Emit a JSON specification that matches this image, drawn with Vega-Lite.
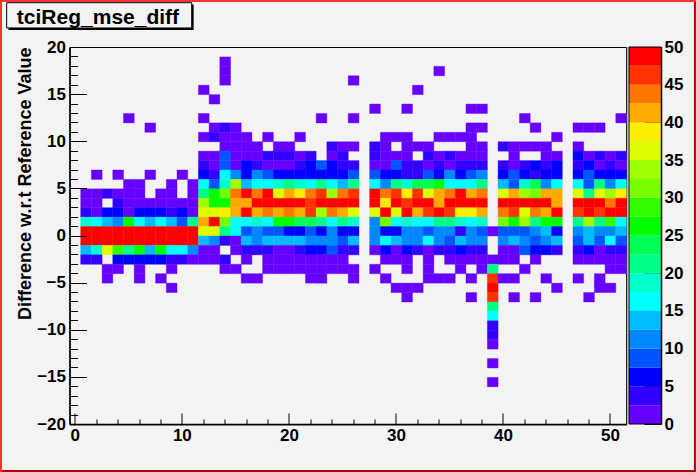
{"$schema":"https://vega.github.io/schema/vega-lite/v6.json","autosize":{"type":"none"},"padding":{"left":69.5,"top":47,"right":70,"bottom":48},"width":556.5,"height":377,"background":"#f3f3f3","view":{"fill":"#f3f3f3","stroke":"#000000","strokeWidth":1},"config":{"font":"Liberation Sans","axis":{"labelFont":"Liberation Sans","titleFont":"Liberation Sans","labelFontWeight":"bold","labelColor":"#000000","labelFontSize":17,"domainColor":"#000000","tickColor":"#000000","grid":false}},"resolve":{"scale":{"y":"independent"},"axis":{"y":"independent"}},"datasets":{"cells":[
{"x":14,"y":18,"v":1},{"x":14,"y":17,"v":1},{"x":34,"y":17,"v":1},{"x":14,"y":16,"v":1},{"x":26,"y":16,"v":1},{"x":12,"y":15,"v":1},{"x":32,"y":15,"v":1},{"x":13,"y":14,"v":1},
{"x":28,"y":13,"v":1},{"x":31,"y":13,"v":1},{"x":37,"y":13,"v":1},{"x":38,"y":13,"v":1},
{"x":5,"y":12,"v":1},{"x":12,"y":12,"v":1},{"x":23,"y":12,"v":1},{"x":26,"y":12,"v":1},{"x":42,"y":12,"v":1},{"x":51,"y":12,"v":1},
{"x":7,"y":11,"v":1},{"x":13,"y":11,"v":1},{"x":14,"y":11,"v":4},{"x":15,"y":11,"v":1},{"x":37,"y":11,"v":1},{"x":38,"y":11,"v":1},{"x":43,"y":11,"v":1},{"x":47,"y":11,"v":1},{"x":48,"y":11,"v":1},{"x":49,"y":11,"v":1},
{"x":12,"y":10,"v":1},{"x":13,"y":10,"v":4},{"x":14,"y":10,"v":1},{"x":15,"y":10,"v":1},{"x":16,"y":10,"v":1},{"x":18,"y":10,"v":1},{"x":21,"y":10,"v":1},{"x":29,"y":10,"v":1},{"x":30,"y":10,"v":1},{"x":31,"y":10,"v":1},{"x":34,"y":10,"v":1},{"x":35,"y":10,"v":1},{"x":36,"y":10,"v":1},{"x":37,"y":10,"v":1},{"x":45,"y":10,"v":1},
{"x":14,"y":9,"v":1},{"x":15,"y":9,"v":1},{"x":16,"y":9,"v":1},{"x":17,"y":9,"v":1},{"x":19,"y":9,"v":1},{"x":20,"y":9,"v":1},{"x":24,"y":9,"v":4},{"x":25,"y":9,"v":1},{"x":26,"y":9,"v":1},{"x":28,"y":9,"v":4},{"x":29,"y":9,"v":1},{"x":31,"y":9,"v":1},{"x":32,"y":9,"v":1},{"x":33,"y":9,"v":1},{"x":37,"y":9,"v":1},{"x":38,"y":9,"v":1},{"x":40,"y":9,"v":4},{"x":41,"y":9,"v":1},{"x":42,"y":9,"v":1},{"x":43,"y":9,"v":1},{"x":44,"y":9,"v":1},{"x":47,"y":9,"v":1},
{"x":12,"y":8,"v":1},{"x":13,"y":8,"v":1},{"x":14,"y":8,"v":9},{"x":15,"y":8,"v":1},{"x":16,"y":8,"v":1},{"x":17,"y":8,"v":1},{"x":18,"y":8,"v":4},{"x":19,"y":8,"v":4},{"x":20,"y":8,"v":4},{"x":21,"y":8,"v":1},{"x":22,"y":8,"v":4},{"x":24,"y":8,"v":1},{"x":25,"y":8,"v":4},{"x":28,"y":8,"v":4},{"x":29,"y":8,"v":1},{"x":30,"y":8,"v":1},{"x":31,"y":8,"v":1},{"x":33,"y":8,"v":4},{"x":34,"y":8,"v":1},{"x":35,"y":8,"v":4},{"x":36,"y":8,"v":1},{"x":37,"y":8,"v":1},{"x":38,"y":8,"v":1},{"x":41,"y":8,"v":1},{"x":44,"y":8,"v":1},{"x":45,"y":8,"v":1},{"x":47,"y":8,"v":6},{"x":48,"y":8,"v":1},{"x":49,"y":8,"v":4},{"x":50,"y":8,"v":1},{"x":51,"y":8,"v":4},
{"x":12,"y":7,"v":4},{"x":13,"y":7,"v":1},{"x":14,"y":7,"v":9},{"x":15,"y":7,"v":1},{"x":16,"y":7,"v":6},{"x":17,"y":7,"v":4},{"x":18,"y":7,"v":1},{"x":19,"y":7,"v":1},{"x":20,"y":7,"v":1},{"x":21,"y":7,"v":4},{"x":22,"y":7,"v":6},{"x":23,"y":7,"v":9},{"x":24,"y":7,"v":6},{"x":25,"y":7,"v":4},{"x":26,"y":7,"v":4},{"x":28,"y":7,"v":1},{"x":29,"y":7,"v":1},{"x":30,"y":7,"v":9},{"x":31,"y":7,"v":4},{"x":32,"y":7,"v":4},{"x":33,"y":7,"v":1},{"x":34,"y":7,"v":4},{"x":35,"y":7,"v":1},{"x":36,"y":7,"v":4},{"x":37,"y":7,"v":4},{"x":38,"y":7,"v":4},{"x":40,"y":7,"v":4},{"x":41,"y":7,"v":1},{"x":42,"y":7,"v":4},{"x":43,"y":7,"v":6},{"x":44,"y":7,"v":4},{"x":45,"y":7,"v":6},{"x":47,"y":7,"v":4},{"x":48,"y":7,"v":6},{"x":49,"y":7,"v":1},{"x":50,"y":7,"v":4},{"x":51,"y":7,"v":1},
{"x":2,"y":6,"v":1},{"x":4,"y":6,"v":1},{"x":7,"y":6,"v":1},{"x":10,"y":6,"v":1},{"x":12,"y":6,"v":6},{"x":13,"y":6,"v":4},{"x":14,"y":6,"v":16},{"x":15,"y":6,"v":11},{"x":16,"y":6,"v":6},{"x":17,"y":6,"v":11},{"x":18,"y":6,"v":9},{"x":19,"y":6,"v":6},{"x":20,"y":6,"v":6},{"x":21,"y":6,"v":6},{"x":22,"y":6,"v":6},{"x":23,"y":6,"v":6},{"x":24,"y":6,"v":6},{"x":25,"y":6,"v":6},{"x":26,"y":6,"v":9},{"x":28,"y":6,"v":9},{"x":29,"y":6,"v":6},{"x":30,"y":6,"v":6},{"x":31,"y":6,"v":4},{"x":32,"y":6,"v":4},{"x":33,"y":6,"v":9},{"x":34,"y":6,"v":6},{"x":35,"y":6,"v":11},{"x":36,"y":6,"v":6},{"x":37,"y":6,"v":9},{"x":38,"y":6,"v":11},{"x":40,"y":6,"v":6},{"x":41,"y":6,"v":9},{"x":42,"y":6,"v":6},{"x":43,"y":6,"v":4},{"x":44,"y":6,"v":6},{"x":45,"y":6,"v":6},{"x":47,"y":6,"v":6},{"x":48,"y":6,"v":9},{"x":49,"y":6,"v":6},{"x":50,"y":6,"v":6},{"x":51,"y":6,"v":6},
{"x":5,"y":5,"v":1},{"x":6,"y":5,"v":1},{"x":9,"y":5,"v":1},{"x":11,"y":5,"v":1},{"x":12,"y":5,"v":16},{"x":13,"y":5,"v":9},{"x":14,"y":5,"v":19},{"x":15,"y":5,"v":34},{"x":16,"y":5,"v":14},{"x":17,"y":5,"v":16},{"x":18,"y":5,"v":16},{"x":19,"y":5,"v":19},{"x":20,"y":5,"v":21},{"x":21,"y":5,"v":19},{"x":22,"y":5,"v":16},{"x":23,"y":5,"v":21},{"x":24,"y":5,"v":16},{"x":25,"y":5,"v":14},{"x":26,"y":5,"v":21},{"x":28,"y":5,"v":16},{"x":29,"y":5,"v":11},{"x":30,"y":5,"v":21},{"x":31,"y":5,"v":19},{"x":32,"y":5,"v":24},{"x":33,"y":5,"v":24},{"x":34,"y":5,"v":26},{"x":35,"y":5,"v":16},{"x":36,"y":5,"v":16},{"x":37,"y":5,"v":16},{"x":38,"y":5,"v":21},{"x":40,"y":5,"v":14},{"x":41,"y":5,"v":9},{"x":42,"y":5,"v":19},{"x":43,"y":5,"v":24},{"x":44,"y":5,"v":11},{"x":45,"y":5,"v":16},{"x":47,"y":5,"v":16},{"x":48,"y":5,"v":9},{"x":49,"y":5,"v":21},{"x":50,"y":5,"v":11},{"x":51,"y":5,"v":16},
{"x":1,"y":4,"v":1},{"x":2,"y":4,"v":1},{"x":3,"y":4,"v":4},{"x":4,"y":4,"v":1},{"x":5,"y":4,"v":1},{"x":6,"y":4,"v":1},{"x":8,"y":4,"v":1},{"x":9,"y":4,"v":1},{"x":11,"y":4,"v":1},{"x":12,"y":4,"v":21},{"x":13,"y":4,"v":26},{"x":14,"y":4,"v":31},{"x":15,"y":4,"v":44},{"x":16,"y":4,"v":49},{"x":17,"y":4,"v":44},{"x":18,"y":4,"v":49},{"x":19,"y":4,"v":36},{"x":20,"y":4,"v":41},{"x":21,"y":4,"v":39},{"x":22,"y":4,"v":44},{"x":23,"y":4,"v":46},{"x":24,"y":4,"v":34},{"x":25,"y":4,"v":44},{"x":26,"y":4,"v":46},{"x":28,"y":4,"v":49},{"x":29,"y":4,"v":44},{"x":30,"y":4,"v":46},{"x":31,"y":4,"v":39},{"x":32,"y":4,"v":46},{"x":33,"y":4,"v":36},{"x":34,"y":4,"v":41},{"x":35,"y":4,"v":44},{"x":36,"y":4,"v":49},{"x":37,"y":4,"v":41},{"x":38,"y":4,"v":44},{"x":40,"y":4,"v":36},{"x":41,"y":4,"v":41},{"x":42,"y":4,"v":34},{"x":43,"y":4,"v":31},{"x":44,"y":4,"v":41},{"x":45,"y":4,"v":41},{"x":47,"y":4,"v":36},{"x":48,"y":4,"v":21},{"x":49,"y":4,"v":36},{"x":50,"y":4,"v":34},{"x":51,"y":4,"v":39},
{"x":1,"y":3,"v":1},{"x":2,"y":3,"v":1},{"x":4,"y":3,"v":4},{"x":5,"y":3,"v":1},{"x":6,"y":3,"v":1},{"x":7,"y":3,"v":1},{"x":8,"y":3,"v":1},{"x":9,"y":3,"v":1},{"x":10,"y":3,"v":1},{"x":11,"y":3,"v":1},{"x":12,"y":3,"v":34},{"x":13,"y":3,"v":26},{"x":14,"y":3,"v":26},{"x":15,"y":3,"v":41},{"x":16,"y":3,"v":41},{"x":17,"y":3,"v":49},{"x":18,"y":3,"v":49},{"x":19,"y":3,"v":49},{"x":20,"y":3,"v":49},{"x":21,"y":3,"v":49},{"x":22,"y":3,"v":46},{"x":23,"y":3,"v":49},{"x":24,"y":3,"v":49},{"x":25,"y":3,"v":49},{"x":26,"y":3,"v":49},{"x":28,"y":3,"v":49},{"x":29,"y":3,"v":39},{"x":30,"y":3,"v":49},{"x":31,"y":3,"v":46},{"x":32,"y":3,"v":49},{"x":33,"y":3,"v":49},{"x":34,"y":3,"v":41},{"x":35,"y":3,"v":49},{"x":36,"y":3,"v":49},{"x":37,"y":3,"v":49},{"x":38,"y":3,"v":49},{"x":40,"y":3,"v":49},{"x":41,"y":3,"v":49},{"x":42,"y":3,"v":49},{"x":43,"y":3,"v":49},{"x":44,"y":3,"v":49},{"x":45,"y":3,"v":41},{"x":47,"y":3,"v":49},{"x":48,"y":3,"v":49},{"x":49,"y":3,"v":49},{"x":50,"y":3,"v":44},{"x":51,"y":3,"v":49},
{"x":1,"y":2,"v":4},{"x":2,"y":2,"v":1},{"x":3,"y":2,"v":6},{"x":4,"y":2,"v":6},{"x":5,"y":2,"v":1},{"x":6,"y":2,"v":6},{"x":7,"y":2,"v":6},{"x":8,"y":2,"v":6},{"x":9,"y":2,"v":4},{"x":10,"y":2,"v":6},{"x":11,"y":2,"v":1},{"x":12,"y":2,"v":36},{"x":13,"y":2,"v":36},{"x":14,"y":2,"v":39},{"x":15,"y":2,"v":41},{"x":16,"y":2,"v":49},{"x":17,"y":2,"v":41},{"x":18,"y":2,"v":44},{"x":19,"y":2,"v":41},{"x":20,"y":2,"v":44},{"x":21,"y":2,"v":41},{"x":22,"y":2,"v":46},{"x":23,"y":2,"v":34},{"x":24,"y":2,"v":44},{"x":25,"y":2,"v":41},{"x":26,"y":2,"v":36},{"x":28,"y":2,"v":36},{"x":29,"y":2,"v":49},{"x":30,"y":2,"v":36},{"x":31,"y":2,"v":49},{"x":32,"y":2,"v":41},{"x":33,"y":2,"v":46},{"x":34,"y":2,"v":49},{"x":35,"y":2,"v":46},{"x":36,"y":2,"v":39},{"x":37,"y":2,"v":39},{"x":38,"y":2,"v":41},{"x":40,"y":2,"v":44},{"x":41,"y":2,"v":46},{"x":42,"y":2,"v":36},{"x":43,"y":2,"v":44},{"x":44,"y":2,"v":41},{"x":45,"y":2,"v":49},{"x":47,"y":2,"v":46},{"x":48,"y":2,"v":49},{"x":49,"y":2,"v":46},{"x":50,"y":2,"v":49},{"x":51,"y":2,"v":49},
{"x":1,"y":1,"v":19},{"x":2,"y":1,"v":16},{"x":3,"y":1,"v":14},{"x":4,"y":1,"v":11},{"x":5,"y":1,"v":26},{"x":6,"y":1,"v":16},{"x":7,"y":1,"v":14},{"x":8,"y":1,"v":16},{"x":9,"y":1,"v":14},{"x":10,"y":1,"v":9},{"x":11,"y":1,"v":21},{"x":12,"y":1,"v":41},{"x":13,"y":1,"v":49},{"x":14,"y":1,"v":31},{"x":15,"y":1,"v":16},{"x":16,"y":1,"v":16},{"x":17,"y":1,"v":19},{"x":18,"y":1,"v":16},{"x":19,"y":1,"v":26},{"x":20,"y":1,"v":26},{"x":21,"y":1,"v":24},{"x":22,"y":1,"v":24},{"x":23,"y":1,"v":21},{"x":24,"y":1,"v":16},{"x":25,"y":1,"v":21},{"x":26,"y":1,"v":19},{"x":28,"y":1,"v":11},{"x":29,"y":1,"v":31},{"x":30,"y":1,"v":16},{"x":31,"y":1,"v":19},{"x":32,"y":1,"v":16},{"x":33,"y":1,"v":16},{"x":34,"y":1,"v":21},{"x":35,"y":1,"v":21},{"x":36,"y":1,"v":19},{"x":37,"y":1,"v":16},{"x":38,"y":1,"v":19},{"x":40,"y":1,"v":31},{"x":41,"y":1,"v":26},{"x":42,"y":1,"v":34},{"x":43,"y":1,"v":21},{"x":44,"y":1,"v":26},{"x":45,"y":1,"v":26},{"x":47,"y":1,"v":21},{"x":48,"y":1,"v":34},{"x":49,"y":1,"v":21},{"x":50,"y":1,"v":29},{"x":51,"y":1,"v":16},
{"x":1,"y":0,"v":49},{"x":2,"y":0,"v":49},{"x":3,"y":0,"v":49},{"x":4,"y":0,"v":49},{"x":5,"y":0,"v":49},{"x":6,"y":0,"v":49},{"x":7,"y":0,"v":49},{"x":8,"y":0,"v":49},{"x":9,"y":0,"v":49},{"x":10,"y":0,"v":49},{"x":11,"y":0,"v":49},{"x":12,"y":0,"v":36},{"x":13,"y":0,"v":36},{"x":14,"y":0,"v":21},{"x":15,"y":0,"v":16},{"x":16,"y":0,"v":9},{"x":17,"y":0,"v":11},{"x":18,"y":0,"v":9},{"x":19,"y":0,"v":9},{"x":20,"y":0,"v":6},{"x":21,"y":0,"v":6},{"x":22,"y":0,"v":9},{"x":23,"y":0,"v":6},{"x":24,"y":0,"v":11},{"x":25,"y":0,"v":6},{"x":26,"y":0,"v":6},{"x":28,"y":0,"v":11},{"x":29,"y":0,"v":6},{"x":30,"y":0,"v":6},{"x":31,"y":0,"v":11},{"x":32,"y":0,"v":11},{"x":33,"y":0,"v":9},{"x":34,"y":0,"v":11},{"x":35,"y":0,"v":11},{"x":36,"y":0,"v":4},{"x":37,"y":0,"v":11},{"x":38,"y":0,"v":9},{"x":39,"y":0,"v":1},{"x":40,"y":0,"v":9},{"x":41,"y":0,"v":9},{"x":42,"y":0,"v":9},{"x":43,"y":0,"v":11},{"x":44,"y":0,"v":14},{"x":45,"y":0,"v":6},{"x":47,"y":0,"v":11},{"x":48,"y":0,"v":14},{"x":49,"y":0,"v":11},{"x":50,"y":0,"v":11},{"x":51,"y":0,"v":14},
{"x":1,"y":-1,"v":49},{"x":2,"y":-1,"v":49},{"x":3,"y":-1,"v":49},{"x":4,"y":-1,"v":49},{"x":5,"y":-1,"v":49},{"x":6,"y":-1,"v":49},{"x":7,"y":-1,"v":49},{"x":8,"y":-1,"v":49},{"x":9,"y":-1,"v":49},{"x":10,"y":-1,"v":49},{"x":11,"y":-1,"v":49},{"x":12,"y":-1,"v":14},{"x":13,"y":-1,"v":11},{"x":14,"y":-1,"v":4},{"x":15,"y":-1,"v":1},{"x":16,"y":-1,"v":14},{"x":17,"y":-1,"v":11},{"x":18,"y":-1,"v":14},{"x":19,"y":-1,"v":14},{"x":20,"y":-1,"v":14},{"x":21,"y":-1,"v":14},{"x":22,"y":-1,"v":11},{"x":23,"y":-1,"v":11},{"x":24,"y":-1,"v":11},{"x":25,"y":-1,"v":9},{"x":26,"y":-1,"v":14},{"x":28,"y":-1,"v":11},{"x":29,"y":-1,"v":16},{"x":30,"y":-1,"v":14},{"x":31,"y":-1,"v":11},{"x":32,"y":-1,"v":11},{"x":33,"y":-1,"v":16},{"x":34,"y":-1,"v":11},{"x":35,"y":-1,"v":9},{"x":36,"y":-1,"v":14},{"x":37,"y":-1,"v":11},{"x":38,"y":-1,"v":11},{"x":40,"y":-1,"v":11},{"x":41,"y":-1,"v":14},{"x":42,"y":-1,"v":11},{"x":43,"y":-1,"v":9},{"x":44,"y":-1,"v":11},{"x":45,"y":-1,"v":14},{"x":47,"y":-1,"v":9},{"x":48,"y":-1,"v":14},{"x":49,"y":-1,"v":9},{"x":50,"y":-1,"v":16},{"x":51,"y":-1,"v":9},
{"x":1,"y":-2,"v":14},{"x":2,"y":-2,"v":19},{"x":3,"y":-2,"v":36},{"x":4,"y":-2,"v":29},{"x":5,"y":-2,"v":21},{"x":6,"y":-2,"v":26},{"x":7,"y":-2,"v":14},{"x":8,"y":-2,"v":26},{"x":9,"y":-2,"v":16},{"x":10,"y":-2,"v":16},{"x":11,"y":-2,"v":11},{"x":12,"y":-2,"v":1},{"x":13,"y":-2,"v":1},{"x":15,"y":-2,"v":1},{"x":16,"y":-2,"v":4},{"x":17,"y":-2,"v":4},{"x":18,"y":-2,"v":4},{"x":19,"y":-2,"v":1},{"x":20,"y":-2,"v":1},{"x":21,"y":-2,"v":4},{"x":22,"y":-2,"v":6},{"x":23,"y":-2,"v":6},{"x":24,"y":-2,"v":9},{"x":25,"y":-2,"v":4},{"x":26,"y":-2,"v":4},{"x":28,"y":-2,"v":1},{"x":29,"y":-2,"v":6},{"x":30,"y":-2,"v":1},{"x":31,"y":-2,"v":6},{"x":32,"y":-2,"v":4},{"x":33,"y":-2,"v":1},{"x":34,"y":-2,"v":4},{"x":35,"y":-2,"v":4},{"x":36,"y":-2,"v":6},{"x":37,"y":-2,"v":4},{"x":38,"y":-2,"v":4},{"x":40,"y":-2,"v":1},{"x":41,"y":-2,"v":1},{"x":42,"y":-2,"v":9},{"x":43,"y":-2,"v":6},{"x":44,"y":-2,"v":6},{"x":45,"y":-2,"v":4},{"x":47,"y":-2,"v":4},{"x":48,"y":-2,"v":6},{"x":49,"y":-2,"v":1},{"x":50,"y":-2,"v":4},{"x":51,"y":-2,"v":4},
{"x":1,"y":-3,"v":4},{"x":2,"y":-3,"v":4},{"x":4,"y":-3,"v":6},{"x":5,"y":-3,"v":6},{"x":6,"y":-3,"v":6},{"x":7,"y":-3,"v":6},{"x":8,"y":-3,"v":6},{"x":9,"y":-3,"v":4},{"x":10,"y":-3,"v":4},{"x":11,"y":-3,"v":1},{"x":12,"y":-3,"v":1},{"x":13,"y":-3,"v":1},{"x":14,"y":-3,"v":4},{"x":16,"y":-3,"v":1},{"x":18,"y":-3,"v":1},{"x":19,"y":-3,"v":1},{"x":20,"y":-3,"v":1},{"x":21,"y":-3,"v":1},{"x":22,"y":-3,"v":1},{"x":23,"y":-3,"v":1},{"x":24,"y":-3,"v":1},{"x":25,"y":-3,"v":1},{"x":29,"y":-3,"v":1},{"x":30,"y":-3,"v":1},{"x":31,"y":-3,"v":1},{"x":33,"y":-3,"v":1},{"x":35,"y":-3,"v":1},{"x":36,"y":-3,"v":1},{"x":37,"y":-3,"v":1},{"x":38,"y":-3,"v":1},{"x":39,"y":-3,"v":1},{"x":40,"y":-3,"v":1},{"x":41,"y":-3,"v":1},{"x":43,"y":-3,"v":1},{"x":47,"y":-3,"v":1},{"x":48,"y":-3,"v":1},{"x":49,"y":-3,"v":1},{"x":50,"y":-3,"v":1},{"x":51,"y":-3,"v":1},
{"x":3,"y":-4,"v":1},{"x":4,"y":-4,"v":1},{"x":6,"y":-4,"v":1},{"x":9,"y":-4,"v":1},{"x":14,"y":-4,"v":1},{"x":15,"y":-4,"v":1},{"x":18,"y":-4,"v":1},{"x":19,"y":-4,"v":1},{"x":20,"y":-4,"v":1},{"x":21,"y":-4,"v":1},{"x":22,"y":-4,"v":1},{"x":23,"y":-4,"v":1},{"x":24,"y":-4,"v":1},{"x":25,"y":-4,"v":1},{"x":26,"y":-4,"v":1},{"x":28,"y":-4,"v":1},{"x":31,"y":-4,"v":1},{"x":33,"y":-4,"v":1},{"x":36,"y":-4,"v":1},{"x":38,"y":-4,"v":1},{"x":39,"y":-4,"v":21},{"x":42,"y":-4,"v":1},{"x":50,"y":-4,"v":1},{"x":51,"y":-4,"v":1},
{"x":3,"y":-5,"v":1},{"x":6,"y":-5,"v":1},{"x":8,"y":-5,"v":1},{"x":16,"y":-5,"v":1},{"x":17,"y":-5,"v":1},{"x":22,"y":-5,"v":1},{"x":23,"y":-5,"v":1},{"x":26,"y":-5,"v":1},{"x":29,"y":-5,"v":1},{"x":33,"y":-5,"v":1},{"x":34,"y":-5,"v":1},{"x":35,"y":-5,"v":1},{"x":37,"y":-5,"v":1},{"x":39,"y":-5,"v":46},{"x":40,"y":-5,"v":1},{"x":41,"y":-5,"v":1},{"x":44,"y":-5,"v":1},{"x":47,"y":-5,"v":1},{"x":49,"y":-5,"v":1},
{"x":9,"y":-6,"v":1},{"x":30,"y":-6,"v":1},{"x":31,"y":-6,"v":1},{"x":32,"y":-6,"v":1},{"x":39,"y":-6,"v":49},{"x":45,"y":-6,"v":1},{"x":49,"y":-6,"v":1},{"x":50,"y":-6,"v":1},
{"x":31,"y":-7,"v":1},{"x":37,"y":-7,"v":1},{"x":39,"y":-7,"v":46},{"x":41,"y":-7,"v":1},{"x":43,"y":-7,"v":1},{"x":48,"y":-7,"v":1},
{"x":39,"y":-8,"v":21},{"x":39,"y":-9,"v":16},{"x":39,"y":-10,"v":4},{"x":39,"y":-11,"v":4},{"x":39,"y":-12,"v":1},{"x":39,"y":-14,"v":1},{"x":39,"y":-16,"v":1}
],"levels":[{"lo":0,"hi":2.5,"v":1},{"lo":2.5,"hi":5,"v":4},{"lo":5,"hi":7.5,"v":6},{"lo":7.5,"hi":10,"v":9},{"lo":10,"hi":12.5,"v":11},{"lo":12.5,"hi":15,"v":14},{"lo":15,"hi":17.5,"v":16},{"lo":17.5,"hi":20,"v":19},{"lo":20,"hi":22.5,"v":21},{"lo":22.5,"hi":25,"v":24},{"lo":25,"hi":27.5,"v":26},{"lo":27.5,"hi":30,"v":29},{"lo":30,"hi":32.5,"v":31},{"lo":32.5,"hi":35,"v":34},{"lo":35,"hi":37.5,"v":36},{"lo":37.5,"hi":40,"v":39},{"lo":40,"hi":42.5,"v":41},{"lo":42.5,"hi":45,"v":44},{"lo":45,"hi":47.5,"v":46},{"lo":47.5,"hi":50,"v":49}]},
"layer":[
{"data":{"name":"cells"},"mark":{"type":"rect","binSpacing":0,"strokeWidth":0.4},"encoding":{
"x":{"field":"x","type":"quantitative","bin":{"extent":[-0.5,51.5],"step":1,"nice":false},"scale":{"domain":[-0.5,51.5],"nice":false,"zero":false},"title":null,"axis":{"values":[0,2,4,6,8,10,12,14,16,18,20,22,24,26,28,30,32,34,36,38,40,42,44,46,48,50],"labelExpr":"datum.value%10==0?datum.label:''","tickSize":{"condition":{"test":"datum.value%10==0","value":-11},"value":-5},"labelPadding":14,"domainWidth":1.5,"labelFlush":false,"labelOverlap":false}},
"y":{"field":"y","type":"quantitative","bin":{"extent":[-20,20],"step":1,"nice":false},"scale":{"domain":[-20,20],"nice":false,"zero":false},"title":"Difference w.r.t Reference Value","axis":{"values":[-20,-19,-18,-17,-16,-15,-14,-13,-12,-11,-10,-9,-8,-7,-6,-5,-4,-3,-2,-1,0,1,2,3,4,5,6,7,8,9,10,11,12,13,14,15,16,17,18,19,20],"labelExpr":"datum.value%5==0?datum.label:''","tickSize":{"condition":{"test":"datum.value%5==0","value":-17},"value":-8},"labelPadding":21,"domainWidth":1.5,"titleFontSize":18,"titleFontWeight":"bold","titleColor":"#000000","titleAnchor":"end","titlePadding":2,"labelOverlap":false,"labelFlush":false}},
"color":{"field":"v","type":"quantitative","legend":null,"scale":{"type":"quantize","domain":[0,50],"range":["#6600ff","#3300ff","#0000ff","#0055ff","#0088ff","#00bbff","#00ffff","#00ffcc","#00ff88","#00ff55","#00ff00","#33ff00","#77ff00","#a0ff00","#ddff00","#ffee00","#ffaa00","#ff7700","#ff3300","#ff0000"]}},
"stroke":{"field":"v","type":"quantitative","legend":null,"scale":{"type":"quantize","domain":[0,50],"range":["#6600ff","#3300ff","#0000ff","#0055ff","#0088ff","#00bbff","#00ffff","#00ffcc","#00ff88","#00ff55","#00ff00","#33ff00","#77ff00","#a0ff00","#ddff00","#ffee00","#ffaa00","#ff7700","#ff3300","#ff0000"]}}}},
{"data":{"name":"levels"},"mark":{"type":"rect"},"encoding":{
"x":{"datum":51.78,"type":"quantitative"},"x2":{"datum":54.8},
"y":{"field":"lo","type":"quantitative","scale":{"domain":[0,50],"nice":false,"zero":false},"title":null,"axis":{"orient":"right","offset":35,"values":[0,5,10,15,20,25,30,35,40,45,50],"tickSize":-17,"labelPadding":20,"domain":true,"domainWidth":1.5,"labelOverlap":false,"labelFlush":false}},
"y2":{"field":"hi"},
"fill":{"field":"v","type":"quantitative","legend":null,"scale":{"type":"quantize","domain":[0,50],"range":["#6600ff","#3300ff","#0000ff","#0055ff","#0088ff","#00bbff","#00ffff","#00ffcc","#00ff88","#00ff55","#00ff00","#33ff00","#77ff00","#a0ff00","#ddff00","#ffee00","#ffaa00","#ff7700","#ff3300","#ff0000"]}}}},
{"data":{"values":[{"k":1}]},"mark":{"type":"rect","fill":null,"stroke":"#000000","strokeWidth":1},"encoding":{"x":{"datum":51.78,"type":"quantitative"},"x2":{"datum":54.8},"y":{"datum":20,"type":"quantitative","scale":{"domain":[-20,20],"nice":false,"zero":false},"axis":null},"y2":{"datum":-20}}},
{"data":{"values":[{"k":1}]},"mark":{"type":"rule","color":"#a0a0a0","strokeWidth":1},"encoding":{"x":{"datum":51.62,"type":"quantitative"},"y":{"datum":20,"type":"quantitative","scale":{"domain":[-20,20],"nice":false,"zero":false},"axis":null},"y2":{"datum":-20.15}}},
{"data":{"values":[{"k":1}]},"mark":{"type":"rule","color":"#a0a0a0","strokeWidth":1},"encoding":{"x":{"datum":-0.5,"type":"quantitative"},"x2":{"datum":51.62},"y":{"datum":-20.15,"type":"quantitative","scale":{"domain":[-20,20],"nice":false,"zero":false},"axis":null}}},
{"data":{"values":[{"k":1}]},"mark":{"type":"rect","fill":"#000000"},"encoding":{"x":{"datum":-6.2,"type":"quantitative"},"x2":{"datum":11.1},"y":{"datum":24.5,"type":"quantitative","scale":{"domain":[-20,20],"nice":false,"zero":false},"axis":null},"y2":{"datum":21.8}}},
{"data":{"values":[{"k":1}]},"mark":{"type":"rect","fill":"#f3f3f3","stroke":"#000000","strokeWidth":1},"encoding":{"x":{"datum":-6.37,"type":"quantitative"},"x2":{"datum":10.92},"y":{"datum":24.7,"type":"quantitative","scale":{"domain":[-20,20],"nice":false,"zero":false},"axis":null},"y2":{"datum":22.02}}},
{"data":{"values":[{"name":"tciReg_mse_diff"}]},"mark":{"type":"text","font":"Liberation Sans","fontWeight":"bold","fontSize":21,"align":"center","baseline":"alphabetic","color":"#000000"},"encoding":{"x":{"datum":2.16,"type":"quantitative"},"y":{"datum":22.45,"type":"quantitative","scale":{"domain":[-20,20],"nice":false,"zero":false},"axis":null},"text":{"field":"name"}}},
{"data":{"values":[{"k":1}]},"mark":{"type":"rule","color":"#ff3333","strokeWidth":2},"encoding":{"x":{"datum":-6.9,"type":"quantitative"},"y":{"datum":25,"type":"quantitative","scale":{"domain":[-20,20],"nice":false,"zero":false},"axis":null},"y2":{"datum":-25.09}}},
{"data":{"values":[{"k":1}]},"mark":{"type":"rule","color":"#ff3333","strokeWidth":2},"encoding":{"x":{"datum":-7,"type":"quantitative"},"x2":{"datum":58.03},"y":{"datum":24.88,"type":"quantitative","scale":{"domain":[-20,20],"nice":false,"zero":false},"axis":null}}},
{"data":{"values":[{"k":1}]},"mark":{"type":"rule","color":"#b00000","strokeWidth":2},"encoding":{"x":{"datum":57.94,"type":"quantitative"},"y":{"datum":24.8,"type":"quantitative","scale":{"domain":[-20,20],"nice":false,"zero":false},"axis":null},"y2":{"datum":-25.09}}},
{"data":{"values":[{"k":1}]},"mark":{"type":"rule","color":"#b00000","strokeWidth":2},"encoding":{"x":{"datum":-6.8,"type":"quantitative"},"x2":{"datum":58.03},"y":{"datum":-24.99,"type":"quantitative","scale":{"domain":[-20,20],"nice":false,"zero":false},"axis":null}}}
]}
